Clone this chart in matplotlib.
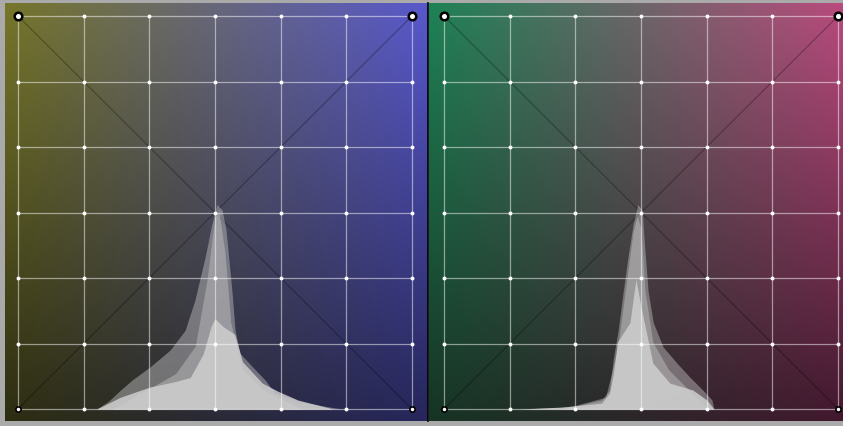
import matplotlib
matplotlib.use("Agg")
import matplotlib.pyplot as plt
import numpy as np

# grid positions (7 x 7 control points, unit square)
grid = np.linspace(0, 1, 7)

# left panel histogram (x in grid units, height in grid units)
left_outer_x = [0.20, 0.23, 0.26, 0.29, 0.335, 0.386, 0.424, 0.449, 0.475, 0.492, 0.505,
                0.518, 0.528, 0.543, 0.551, 0.563, 0.602, 0.627, 0.652, 0.716, 0.82]
left_outer_h = [0.0, 0.02, 0.048, 0.074, 0.107, 0.15, 0.20, 0.277, 0.387, 0.47, 0.52,
                0.506, 0.455, 0.30, 0.20, 0.142, 0.10, 0.074, 0.04, 0.018, 0.0]
left_mid_x = [0.24, 0.33, 0.40, 0.45, 0.48, 0.50, 0.51, 0.525, 0.54, 0.57, 0.62, 0.72]
left_mid_h = [0.0, 0.05, 0.09, 0.16, 0.33, 0.49, 0.50, 0.40, 0.22, 0.10, 0.05, 0.0]
left_core_x = [0.20, 0.26, 0.335, 0.40, 0.437, 0.47, 0.49, 0.50, 0.52, 0.55, 0.57, 0.62, 0.66, 0.71, 0.80]
left_core_h = [0.0, 0.03, 0.056, 0.07, 0.08, 0.14, 0.21, 0.23, 0.21, 0.19, 0.12, 0.066, 0.045, 0.023, 0.0]

# right panel histogram
right_outer_x = [0.18, 0.32, 0.40, 0.42, 0.43, 0.442, 0.455, 0.467, 0.48, 0.492, 0.503,
                 0.508, 0.518, 0.531, 0.556, 0.591, 0.624, 0.657, 0.68, 0.685]
right_outer_h = [0.0, 0.005, 0.023, 0.048, 0.13, 0.20, 0.30, 0.387, 0.47, 0.52, 0.506,
                 0.43, 0.30, 0.22, 0.158, 0.117, 0.081, 0.048, 0.023, 0.0]
right_mid_x = [0.30, 0.41, 0.44, 0.46, 0.48, 0.49, 0.50, 0.51, 0.53, 0.57, 0.62, 0.67]
right_mid_h = [0.0, 0.03, 0.15, 0.30, 0.45, 0.49, 0.46, 0.30, 0.17, 0.10, 0.05, 0.0]
right_core_x = [0.20, 0.30, 0.40, 0.42, 0.43, 0.44, 0.472, 0.487, 0.50, 0.53, 0.573, 0.632, 0.667, 0.685]
right_core_h = [0.0, 0.005, 0.015, 0.04, 0.09, 0.17, 0.22, 0.33, 0.26, 0.117, 0.066, 0.048, 0.023, 0.0]

# corner colours of the two backgrounds (tl, tr, bl, br)
left_corners = [(118, 118, 42), (88, 88, 205), (45, 45, 18), (38, 38, 92)]
right_corners = [(30, 130, 86), (185, 75, 125), (22, 52, 36), (66, 24, 46)]

W, H = 843, 426
fig = plt.figure(figsize=(W / 100, H / 100), dpi=100)
fig.patch.set_facecolor("#aaaaaa")


def gradient(corners, n=200):
    tl, tr, bl, br = [np.array(c) / 255 for c in corners]
    u = np.linspace(0, 1, n)[None, :, None]
    v = np.linspace(0, 1, n)[:, None, None]
    top = tl * (1 - u) + tr * u
    bot = bl * (1 - u) + br * u
    return top * (1 - v) + bot * v


def panel(px0, px1, gx0, corners, hist):
    # pixel layout -> axes; grid spans 394 px horizontally, 393 px vertically
    ax = fig.add_axes([px0 / W, (H - 421) / H, (px1 - px0) / W, 418 / H])
    x0, x1 = (px0 - gx0) / 394, (px1 - gx0) / 394
    y0, y1 = (409 - 421) / 393, (409 - 3) / 393
    ax.imshow(gradient(corners), extent=[x0, x1, y0, y1], aspect="auto",
              interpolation="bilinear", zorder=0)
    ax.set_xlim(x0, x1)
    ax.set_ylim(y0, y1)
    ax.axis("off")

    # diagonals
    ax.plot([0, 1], [1, 0], color="black", lw=0.8, alpha=0.3, zorder=1)
    ax.plot([0, 1], [0, 1], color="black", lw=0.8, alpha=0.3, zorder=1)

    # histogram layers
    for (hx, hh), a in zip(hist, [0.42, 0.4, 0.85]):
        ax.fill_between(hx, 0, hh, color="#cfcfcf", alpha=a, lw=0, zorder=2)

    # grid lines and points
    for g in grid:
        ax.plot([g, g], [0, 1], color="white", lw=0.9, alpha=0.5, zorder=3)
        ax.plot([0, 1], [g, g], color="white", lw=0.9, alpha=0.5, zorder=3)
    gx, gy = np.meshgrid(grid, grid)
    ax.scatter(gx.ravel(), gy.ravel(), s=8, color="white", zorder=4, lw=0)
    ax.scatter([0, 1], [1, 1], s=30, facecolor="white", edgecolor="black", lw=1.8, zorder=5)
    ax.scatter([0, 1], [0, 0], s=14, facecolor="white", edgecolor="black", lw=1.2, zorder=5)
    return ax


panel(5, 427, 18, left_corners,
      [(left_outer_x, left_outer_h), (left_mid_x, left_mid_h), (left_core_x, left_core_h)])
panel(429, 843, 444, right_corners,
      [(right_outer_x, right_outer_h), (right_mid_x, right_mid_h), (right_core_x, right_core_h)])

# separator between panels
fig.add_artist(plt.Line2D([428 / W, 428 / W], [(H - 421) / H, (H - 3) / H],
                          color="black", lw=1.2))

fig.savefig("out.png", dpi=100, facecolor=fig.get_facecolor())
